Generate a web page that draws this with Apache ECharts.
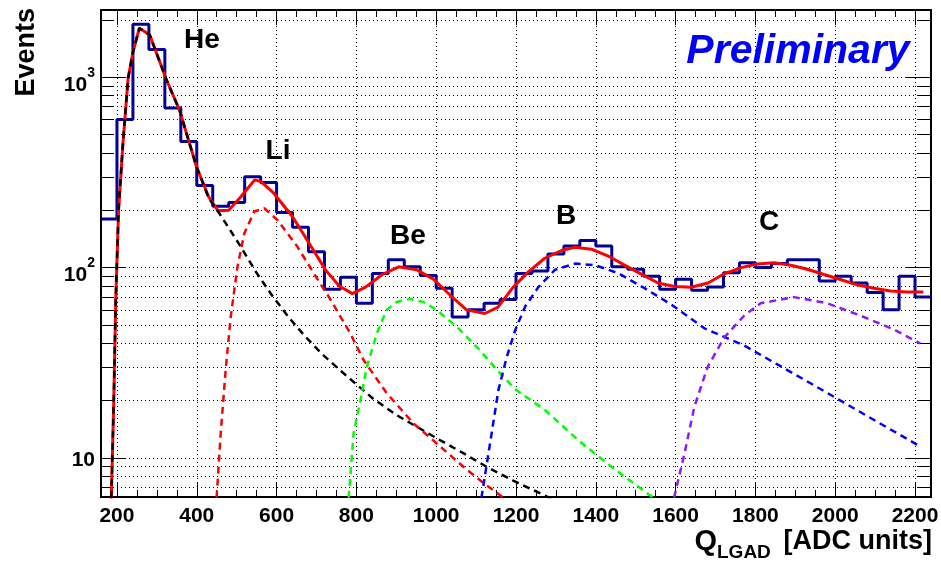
<!DOCTYPE html>
<html>
<head>
<meta charset="utf-8">
<title>Q_LGAD</title>
<script src="https://cdn.jsdelivr.net/npm/echarts@6/dist/echarts.min.js"></script>
<style>
  html, body { margin: 0; padding: 0; background: #fff; }
  #main { width: 941px; height: 561px; }
</style>
</head>
<body>
<div id="main"></div>
<script>
// histogram: 40 ADC-unit bins starting at 160
const binStart = 160;
const binWidth = 40;
const histCounts = [180, 600, 1900, 1400, 690, 460, 270, 210, 220, 300, 280, 195,
  163, 121, 77, 89, 65, 93, 110, 101, 91, 78, 55, 60, 65, 68, 93, 96, 118, 130,
  139, 130, 101, 98, 90, 77, 87, 76, 79, 94, 106, 100, 105, 110, 110, 85, 90, 83,
  74, 60, 90, 70];

// total fit (solid red), [Q, events]
const fitTotal = [[182, 4], [186, 6.3], [192, 20], [197, 68], [204, 200], [215, 450],
  [228, 990], [240, 1350], [256, 1810], [282, 1670], [324, 970], [357, 670], [399, 340],
  [430, 235], [453, 199], [480, 200], [510, 235], [545, 289], [561, 283], [593, 246],
  [640, 185], [682, 134], [723, 97], [757, 80], [790, 73], [823, 79], [865, 92],
  [906, 101], [951, 97.5], [993, 87], [1034, 72], [1076, 60], [1122, 57.4], [1155, 62],
  [1193, 79], [1231, 95], [1272, 112], [1314, 123], [1347, 128], [1389, 125], [1431, 115],
  [1472, 103], [1514, 92.5], [1556, 83], [1597, 79.6], [1639, 78.8], [1681, 83],
  [1722, 92.8], [1764, 100], [1805, 104.5], [1847, 106], [1889, 103], [1930, 98],
  [1972, 92], [2013, 86.6], [2055, 81.2], [2097, 78], [2138, 75.4], [2180, 74.4], [2221, 74.4]];

// single-charge components (dashed)
const fitHe = [[182, 4], [186, 6.3], [192, 20], [197, 68], [204, 200], [215, 450],
  [228, 990], [240, 1350], [256, 1810], [282, 1670], [324, 970], [357, 670], [399, 340],
  [430, 232], [460, 188], [507, 132], [549, 94.4], [590, 70.8], [632, 54.3], [673, 43.2],
  [715, 35], [765, 28.2], [843, 20.4], [901, 16.8], [951, 14.6], [1010, 12.4],
  [1068, 10.6], [1126, 9], [1193, 7.6], [1290, 6.1], [1310, 5.8]];
const fitLi = [[445, 3], [450, 6.3], [460, 13.5], [473, 30], [485, 55], [502, 101],
  [519, 151], [544, 197], [569, 205], [602, 178], [652, 129], [693, 93.5], [735, 68],
  [785, 45], [818, 32.7], [876, 21.9], [943, 15.2], [1010, 11.5], [1068, 9], [1118, 7.4],
  [1168, 6.2], [1180, 5.5]];
const fitBe = [[778, 4], [781, 6.3], [793, 13.5], [810, 20], [826, 30], [851, 45],
  [876, 60], [901, 66], [934, 68.5], [968, 66], [1001, 60], [1051, 49], [1106, 37.5],
  [1159, 28], [1201, 22.7], [1272, 17.9], [1356, 12.4], [1439, 9], [1539, 6.3], [1550, 5.8]];
const fitB = [[1110, 4], [1114, 6.3], [1139, 13.5], [1156, 22.8], [1177, 34], [1198, 47],
  [1223, 62.5], [1256, 79], [1298, 97.5], [1348, 105], [1398, 103], [1456, 93.5],
  [1522, 78], [1589, 64], [1672, 48], [1772, 39], [1855, 31], [1938, 24.7], [2021, 19.6],
  [2105, 15.5], [2213, 11.5]];
const fitC = [[1594, 4], [1597, 6.3], [1622, 10.5], [1647, 18.6], [1680, 30], [1722, 43],
  [1772, 56], [1813, 65], [1897, 70], [1980, 65], [2063, 56], [2146, 47.4], [2213, 40]];

const xMin = 160, xMax = 2240;
const yMin = 6.24, yMax = 2255;

const font = '"Liberation Sans", Arial, Helvetica, sans-serif';

// outline of the histogram, one point per bin edge
const histPoints = histCounts.map((c, i) => [binStart + i * binWidth, c]);
histPoints.push([binStart + histCounts.length * binWidth, histCounts[histCounts.length - 1]]);

const frameLine = { show: true, onZero: false, lineStyle: { color: '#000', width: 2 } };
const dotted = { color: '#000', width: 1, type: [1, 3] };

function dashed(name, data, color) {
  return {
    name: name, type: 'line', data: data, symbol: 'none', z: 4, silent: true,
    lineStyle: { color: color, width: 2.5, type: [7, 5] }
  };
}

const chart = echarts.init(document.getElementById('main'), null, { renderer: 'canvas' });

chart.setOption({
  animation: false,
  backgroundColor: '#fff',
  grid: { left: 101, right: 10, top: 10, bottom: 64, containLabel: false, outerBoundsMode: 'none' },
  xAxis: [
    {
      type: 'value', min: xMin, max: xMax, splitNumber: 10, position: 'bottom',
      axisLine: frameLine,
      axisTick: { inside: true, length: 15, lineStyle: { color: '#000', width: 1 } },
      minorTick: { show: true, splitNumber: 4, length: 7, lineStyle: { color: '#000', width: 1 } },
      axisLabel: {
        showMinLabel: false, showMaxLabel: false, margin: 9,
        color: '#000', fontFamily: font, fontWeight: 'bold', fontSize: 21,
        formatter: function (v) { return String(v); }
      },
      splitLine: { show: true, lineStyle: dotted }
    },
    {
      type: 'value', min: xMin, max: xMax, splitNumber: 10, position: 'top',
      axisLine: frameLine,
      axisTick: { inside: true, length: 15, lineStyle: { color: '#000', width: 1 } },
      minorTick: { show: true, splitNumber: 4, length: 7, lineStyle: { color: '#000', width: 1 } },
      axisLabel: { show: false },
      splitLine: { show: false }
    }
  ],
  yAxis: [
    {
      type: 'log', logBase: 10, min: yMin, max: yMax, position: 'left',
      axisLine: frameLine,
      axisTick: { inside: true, length: 25, lineStyle: { color: '#000', width: 1 } },
      minorTick: { show: true, splitNumber: 9, length: 13, lineStyle: { color: '#000', width: 1 } },
      axisLabel: {
        showMinLabel: false, showMaxLabel: false, margin: 6,
        color: '#000', fontFamily: font, fontWeight: 'bold', fontSize: 21,
        formatter: function (v) {
          const e = Math.round(Math.log10(v));
          return e === 1 ? '{p|10}' : '{b|10}{e|' + e + '}';
        },
        rich: {
          p: { fontFamily: font, fontWeight: 'bold', fontSize: 21, color: '#000', lineHeight: 26, verticalAlign: 'bottom' },
          b: { fontFamily: font, fontWeight: 'bold', fontSize: 21, color: '#000', lineHeight: 36, verticalAlign: 'bottom' },
          e: { fontFamily: font, fontWeight: 'bold', fontSize: 14, color: '#000', lineHeight: 36, verticalAlign: 'top', padding: [7, 0, 0, 0] }
        }
      },
      splitLine: { show: true, lineStyle: dotted },
      minorSplitLine: { show: true, lineStyle: dotted }
    },
    {
      type: 'log', logBase: 10, min: yMin, max: yMax, position: 'right',
      axisLine: frameLine,
      axisTick: { inside: true, length: 25, lineStyle: { color: '#000', width: 1 } },
      minorTick: { show: true, splitNumber: 9, length: 13, lineStyle: { color: '#000', width: 1 } },
      axisLabel: { show: false },
      splitLine: { show: false }
    }
  ],
  series: [
    {
      name: 'data', type: 'line', step: 'end', data: histPoints, symbol: 'none', z: 2, silent: true,
      lineStyle: { color: '#000099', width: 3 }
    },
    {
      name: 'fit', type: 'line', data: fitTotal, symbol: 'none', z: 3, silent: true,
      lineStyle: { color: '#ff0000', width: 3 }
    },
    dashed('He', fitHe, '#000000'),
    dashed('Li', fitLi, '#ff0000'),
    dashed('Be', fitBe, '#00ff00'),
    dashed('B', fitB, '#0000ff'),
    dashed('C', fitC, '#8c1aff')
  ],
  graphic: [
    { type: 'text', x: 202, y: 40, style: { text: 'He', fill: '#000', font: 'bold 28px ' + font, align: 'center', verticalAlign: 'middle' } },
    { type: 'text', x: 278, y: 151, style: { text: 'Li', fill: '#000', font: 'bold 28px ' + font, align: 'center', verticalAlign: 'middle' } },
    { type: 'text', x: 408, y: 236, style: { text: 'Be', fill: '#000', font: 'bold 28px ' + font, align: 'center', verticalAlign: 'middle' } },
    { type: 'text', x: 566, y: 216, style: { text: 'B', fill: '#000', font: 'bold 28px ' + font, align: 'center', verticalAlign: 'middle' } },
    { type: 'text', x: 769, y: 222, style: { text: 'C', fill: '#000', font: 'bold 28px ' + font, align: 'center', verticalAlign: 'middle' } },
    { type: 'text', x: 798, y: 52, style: { text: 'Preliminary', fill: '#0000ff', font: 'italic bold 41px ' + font, align: 'center', verticalAlign: 'middle' } },
    // axis titles
    { type: 'text', x: 27, y: 8, rotation: Math.PI / 2, style: { text: 'Events', fill: '#000', font: 'bold 27px ' + font, align: 'right', verticalAlign: 'middle' } },
    { type: 'text', x: 932, y: 542, style: { text: '[ADC units]', fill: '#000', font: 'bold 27px ' + font, align: 'right', verticalAlign: 'middle' } },
    { type: 'text', x: 717, y: 553, style: { text: 'LGAD', fill: '#000', font: 'bold 19px ' + font, align: 'left', verticalAlign: 'middle' } },
    { type: 'text', x: 717, y: 542, style: { text: 'Q', fill: '#000', font: 'bold 29px ' + font, align: 'right', verticalAlign: 'middle' } }
  ]
});
</script>
</body>
</html>
